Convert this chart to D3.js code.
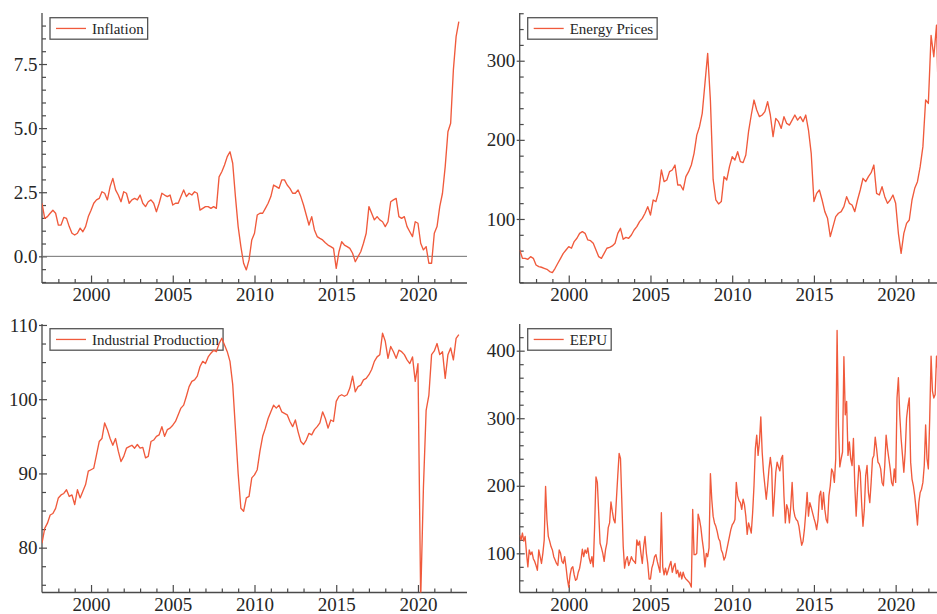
<!DOCTYPE html>
<html lang="en">
<head>
<meta charset="UTF-8">
<title>Inflation, Energy Prices, Industrial Production and EEPU</title>
<style>
  body { margin: 0; background: #fff; }
  svg { display: block; font-family: "Liberation Serif", "Times New Roman", serif; }
  .axis line { stroke: #4a4a4a; stroke-width: 1.2; }
  .axis path { display: none; }
  .axis text { fill: #262626; font-size: 19px; font-family: "Liberation Serif", serif; }
  .frame { stroke: #4a4a4a; stroke-width: 1.3; }
  .series { fill: none; stroke: #f05a3c; stroke-width: 1.35; stroke-linejoin: round; }
  .legend rect { fill: #fff; stroke: #555; stroke-width: 1.3; }
  .legend text { font-size: 15px; fill: #262626; }
</style>
</head>
<body>
<svg id="chart" width="937" height="614"></svg>
<script src="https://d3js.org/d3.v7.min.js"></script>
<script>
// all series start Jan 1997; inflation, energy and IP read every 2 months, EEPU monthly
const START_YEAR = 1997;

const inflation = [
  2.07, 1.48, 1.55, 1.68, 1.8, 1.68,
  1.22, 1.22, 1.52, 1.48, 1.16, 0.9,
  0.83, 0.9, 1.1, 0.96, 1.16, 1.55,
  1.8, 2.07, 2.2, 2.26, 2.52, 2.46,
  2.2, 2.72, 3.04, 2.59, 2.39, 2.13,
  2.52, 2.46, 2.07, 2.2, 2.26, 2.2,
  2.39, 2.07, 1.94, 2.13, 2.2, 2.07,
  1.74, 2.07, 2.46, 2.39, 2.33, 2.39,
  2.0, 2.07, 2.07, 2.33, 2.59, 2.33,
  2.46, 2.39, 2.52, 2.46, 1.8, 1.87,
  1.94, 1.94, 1.87, 1.94, 1.87, 3.1,
  3.3, 3.56, 3.89, 4.08, 3.63, 2.33,
  1.16, 0.38, -0.27, -0.53, -0.14, 0.64,
  0.9, 1.61, 1.68, 1.68, 1.87, 2.07,
  2.33, 2.78, 2.72, 2.65, 2.98, 2.98,
  2.78, 2.65, 2.46, 2.46, 2.59, 2.33,
  2.0, 1.61, 1.22, 1.55, 1.03, 0.77,
  0.7, 0.64, 0.53, 0.44, 0.38, 0.31,
  -0.47, 0.18, 0.57, 0.44, 0.38, 0.31,
  0.12, -0.21, -0.01, 0.18, 0.51, 0.9,
  1.94, 1.68, 1.42, 1.55, 1.42, 1.35,
  1.16, 1.35, 2.13, 2.2, 2.26, 1.55,
  1.48, 1.55, 1.16, 0.96, 0.77, 1.35,
  1.29, 0.51, 0.25, 0.38, -0.27, -0.27,
  0.9, 1.16, 1.94, 2.46, 3.5, 4.86,
  5.19, 7.27, 8.57, 9.15
];

const energy = [
  60.8, 50.3, 50.3, 49, 52.4, 50.3,
  41.9, 39.8, 39, 37.7, 36.4, 33.5,
  32.2, 37.7, 44, 50.3, 56.6, 60.8,
  65, 63, 71.4, 75.6, 81.9, 84,
  81.9, 73.5, 72.6, 69.3, 60.8, 52.4,
  50.3, 56.6, 63, 64.2, 65.9, 69.3,
  81.9, 88.2, 74.3, 76.8, 75.6, 79.8,
  86.1, 90.3, 96.6, 100.8, 107.2, 115.6,
  105, 124, 122, 134.5, 161.9, 147.2,
  149.3, 159.8, 161.9, 168.2, 143, 143,
  136.6, 153.5, 159.8, 168.2, 183, 206,
  216.6, 233.5, 271.4, 309.3, 250, 150,
  124, 119, 122, 153.5, 149.3, 166.1,
  178.7, 174.5, 185, 172.4, 171.2, 180.8,
  210.3, 231.4, 250.3, 237.7, 229.3, 231.4,
  235.6, 248.2, 231.4, 204, 227.2, 223,
  214.5, 229.3, 220.8, 218.7, 225, 231.4,
  225, 229.3, 223, 231.4, 212.4, 183,
  122, 132.4, 136.6, 124, 109.3, 100.8,
  77.7, 90.3, 103, 107.2, 109.3, 115.6,
  128.2, 119.8, 117.7, 109.3, 124, 136.6,
  151.4, 147.2, 153.5, 158.5, 168.2, 132.4,
  130.3, 140.8, 128.2, 119.8, 124, 130.3,
  119.8, 81.9, 56.6, 81.9, 94.5, 98.7,
  124, 138.7, 147.2, 166.1, 191.4, 250.3,
  246, 332, 305, 345, 200
];

const industrial = [
  80.6, 82.6, 83.3, 84.4, 84.6, 85.3,
  86.7, 87.1, 87.3, 87.8, 86.9, 87.1,
  85.8, 87.8, 86.7, 87.6, 88.5, 90.3,
  90.5, 90.7, 92.5, 94.3, 94.7, 96.8,
  95.9, 94.7, 93.8, 94.7, 93, 91.6,
  92.3, 93.4, 93.6, 93.8, 93.4, 93.9,
  93.4, 93.5, 92.1, 92.3, 94.3, 94.5,
  95, 95.2, 96.3, 95, 95.9, 96.1,
  96.5, 97, 97.9, 98.8, 99.2, 100.4,
  101.7, 102.4, 102.6, 103.1, 104.4, 105.1,
  104.8, 105.7, 106.2, 106.6, 106.4, 107.5,
  108.2, 107.3, 106.4, 105.1, 102, 96,
  90, 85.3, 84.9, 86.7, 86.9, 89.4,
  89.8, 90.5, 93, 95, 96.1, 97.4,
  98.3, 99.2, 98.8, 99.2, 98.3, 98.1,
  97.9, 97, 96.3, 97.2, 95.6, 94.3,
  93.9, 94.5, 95.4, 95.2, 95.9, 96.3,
  96.8, 98.3, 97.4, 96.1, 97.2, 97,
  99.7, 100.4, 100.6, 100.4, 100.6, 101.5,
  103.1, 101, 101.7, 101.9, 102.6, 102.8,
  103.3, 104, 105.1, 105.7, 106, 108.9,
  107.8, 105.5, 107.1, 106.4, 105.5, 106.6,
  106.4, 106, 105.3, 104.8, 105.7, 102.4,
  104.8, 73, 88, 98.5, 100.5, 106,
  106.5, 107.5, 106, 106.4, 102.8, 106,
  106.9, 105.3, 108.2, 108.7
];

const eepu = [
  127, 120, 130, 118, 125, 100, 80, 105, 98, 102, 92, 88,
  82, 75, 105, 95, 85, 100, 120, 199, 150, 125, 118, 110,
  105, 95, 90, 85, 82, 105, 100, 88, 85, 95, 80, 62,
  50, 68, 78, 80, 68, 60, 62, 72, 78, 90, 106, 95,
  105, 100, 108, 93, 85, 95, 80, 140, 213, 205, 160, 115,
  108, 100, 88, 105, 115, 138, 145, 176, 162, 150, 145, 180,
  215, 248, 240, 175, 110, 78, 90, 95, 82, 88, 95, 90,
  88, 85, 120, 112, 118, 100, 85, 110, 125, 100, 85, 62,
  62, 78, 85, 95, 98, 88, 80, 72, 160, 80, 68, 78,
  68, 75, 82, 88, 72, 80, 85, 70, 75, 65, 72, 62,
  72, 65, 62, 60, 58, 55, 50, 165, 98, 98, 100, 158,
  150, 138, 120, 105, 80, 100, 95, 108, 218, 180, 155, 145,
  140, 132, 122, 118, 105, 100, 90, 95, 105, 115, 125, 135,
  142, 145, 150, 205, 185, 178, 175, 165, 180, 172, 155, 128,
  145, 138, 130, 160, 200, 255, 275, 245, 265, 302, 250, 220,
  200, 180, 200, 225, 242, 225, 155, 185, 220, 235, 228, 222,
  240, 245, 185, 145, 172, 165, 145, 170, 205, 165, 155, 150,
  148, 140, 125, 112, 118, 135, 160, 190, 155, 175, 168, 160,
  152, 145, 135, 150, 185, 192, 165, 190, 165, 150, 145, 185,
  200, 225, 220, 205, 240, 430, 290, 228, 240, 250, 391, 305,
  325, 245, 265, 240, 230, 270, 200, 155, 195, 230, 220, 175,
  140, 165, 215, 230, 190, 175, 205, 240, 245, 272, 255, 235,
  232, 225, 205, 200, 230, 275, 255, 240, 225, 205, 200, 225,
  205, 330, 360, 305, 270, 245, 220, 250, 300, 318, 330, 235,
  210, 200, 185, 165, 142, 175, 190, 195, 205, 230, 290, 240,
  225, 300, 392, 340, 330, 335, 392, 370
];

const yearTicks = [2000, 2005, 2010, 2015, 2020];
const inflationTicks = [0, 2.5, 5, 7.5];
const energyTicks = [100, 200, 300];
const industrialTicks = [80, 90, 100, 110];
const eepuTicks = [100, 200, 300, 400];

const panels = [
  { name: "Inflation", values: inflation, step: 1 / 6, domain: [-1.04, 9.49], major: inflationTicks, minor: 0.5, fmt: d3.format(".1f"), zero: true,
    box: { left: 42, top: 13, width: 425, height: 270 } },
  { name: "Energy Prices", values: energy, step: 1 / 6, domain: [19.1, 360.3], major: energyTicks, minor: 20, fmt: d3.format("d"),
    box: { left: 519.7, top: 13, width: 425, height: 270 } },
  { name: "Industrial Production", values: industrial, step: 1 / 6, domain: [73.96, 110.13], major: industrialTicks, minor: 2.5, fmt: d3.format("d"),
    box: { left: 42, top: 324, width: 425, height: 268.5 } },
  { name: "EEPU", values: eepu, step: 1 / 12, domain: [42, 439.5], major: eepuTicks, minor: 20, fmt: d3.format("d"),
    box: { left: 519.7, top: 324, width: 425, height: 268.5 } }
];

const svg = d3.select("#chart");

panels.forEach((p, idx) => {
  const b = p.box;
  const g = svg.append("g").attr("transform", `translate(${b.left},${b.top})`);

  const x = d3.scaleLinear().domain([1997, 2023]).range([0, b.width]);
  const y = d3.scaleLinear().domain(p.domain).range([b.height, 0]);

  const data = p.values.map((v, i) => ({ t: START_YEAR + i * p.step, v: v }));

  g.append("clipPath").attr("id", "clip" + idx)
    .append("rect").attr("width", b.width).attr("height", b.height);

  // minor y ticks (inside)
  const lo = p.domain[0], hi = p.domain[1];
  const minorY = d3.range(Math.ceil(lo / p.minor), Math.floor(hi / p.minor) + 1)
    .map(k => k * p.minor)
    .filter(v => !p.major.some(m => Math.abs(m - v) < 1e-9));

  g.append("g").attr("class", "axis")
    .call(d3.axisLeft(y).tickValues(minorY).tickSize(-4).tickFormat(""));

  g.append("g").attr("class", "axis")
    .call(d3.axisLeft(y).tickValues(p.major).tickSize(-5).tickFormat(""));

  g.append("g").attr("class", "axis")
    .call(d3.axisLeft(y).tickValues(p.major).tickSize(3).tickPadding(1.5).tickFormat(p.fmt));

  // x ticks point up into the plot
  const minorX = d3.range(1998, 2023).filter(v => !yearTicks.includes(v));
  g.append("g").attr("class", "axis")
    .attr("transform", `translate(0,${b.height})`)
    .call(d3.axisBottom(x).tickValues(minorX).tickSize(-4).tickFormat(""));

  g.append("g").attr("class", "axis")
    .attr("transform", `translate(0,${b.height})`)
    .call(d3.axisBottom(x).tickValues(yearTicks).tickSize(-7.5).tickPadding(5).tickFormat(d3.format("d")));

  g.append("line").attr("class", "frame")
    .attr("x1", 0).attr("x2", 0).attr("y1", 0).attr("y2", b.height);
  g.append("line").attr("class", "frame")
    .attr("x1", 0).attr("x2", b.width).attr("y1", b.height).attr("y2", b.height);

  if (p.zero) {
    g.append("line")
      .attr("x1", 0).attr("x2", b.width)
      .attr("y1", y(0)).attr("y2", y(0))
      .attr("stroke", "#707070").attr("stroke-width", 1);
  }

  // legend
  const lg = g.append("g").attr("class", "legend").attr("transform", "translate(8,4.7)");
  const rect = lg.append("rect").attr("height", 21.5);
  lg.append("line")
    .attr("x1", 6).attr("x2", 36).attr("y1", 10.75).attr("y2", 10.75)
    .attr("stroke", "#f05a3c").attr("stroke-width", 1.3);
  const txt = lg.append("text").attr("x", 42).attr("y", 16).text(p.name);
  rect.attr("width", 42 + txt.node().getComputedTextLength() + 4);

  const line = d3.line().x(d => x(d.t)).y(d => y(d.v));
  g.append("path")
    .datum(data)
    .attr("class", "series")
    .attr("clip-path", `url(#clip${idx})`)
    .attr("d", line);
});
</script>
</body>
</html>
